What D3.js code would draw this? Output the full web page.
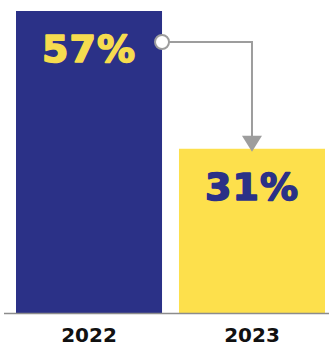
<!DOCTYPE html>
<html>
<head>
<meta charset="utf-8">
<script src="https://cdn.jsdelivr.net/npm/d3@7"></script>
<style>
  html, body { margin: 0; padding: 0; background: #fff; }
  svg { display: block; }
</style>
</head>
<body>
<div id="chart"></div>
<script>
// data
const years = ['2022', '2023'];
const shares = [57, 31];
const barColors = ['#2b3187', '#fde04c'];
const labelColors = ['#f6dc4f', '#2b3187'];

const width = 329;
const height = 347;
const margin = { top: 11, right: 4, bottom: 34, left: 16 };
const baseline = height - margin.bottom;

const svg = d3.select('#chart')
  .append('svg')
  .attr('width', width)
  .attr('height', height);

const xScale = d3.scaleBand()
  .domain(years)
  .range([margin.left, width - margin.right])
  .paddingInner(0.104)
  .paddingOuter(0);

const yScale = d3.scaleLinear()
  .domain([0, d3.max(shares)])
  .range([baseline, margin.top]);

// bars
svg.selectAll('.bar')
  .data(shares)
  .enter()
  .append('rect')
  .classed('bar', true)
  .attr('x', (d, i) => xScale(years[i]))
  .attr('y', d => yScale(d))
  .attr('width', xScale.bandwidth())
  .attr('height', d => baseline - yScale(d))
  .attr('fill', (d, i) => barColors[i]);

// baseline
svg.append('line')
  .attr('x1', 4)
  .attr('x2', width)
  .attr('y1', baseline + 0.5)
  .attr('y2', baseline + 0.5)
  .attr('stroke', '#8c8c8c')
  .attr('stroke-width', 1.5);

// value labels (stroked a little to look heavier)
svg.selectAll('.bar-label')
  .data(shares)
  .enter()
  .append('text')
  .classed('bar-label', true)
  .attr('x', (d, i) => xScale(years[i]) + xScale.bandwidth() / 2)
  .attr('y', d => yScale(d) + 51)
  .attr('text-anchor', 'middle')
  .attr('fill', (d, i) => labelColors[i])
  .attr('stroke', (d, i) => labelColors[i])
  .attr('stroke-width', 1.6)
  .attr('stroke-linejoin', 'round')
  .style('font-family', '"DejaVu Sans", sans-serif')
  .style('font-weight', 'bold')
  .style('font-size', '38px')
  .style('letter-spacing', '1px')
  .text(d => d + '%');

// x axis labels
const xAxis = d3.axisBottom(xScale).tickSize(0).tickPadding(0);
svg.append('g')
  .classed('x axis', true)
  .attr('transform', `translate(0,${baseline})`)
  .call(xAxis)
  .call(g => g.select('.domain').remove())
  .selectAll('text')
  .attr('y', 0)
  .attr('dy', 29)
  .attr('fill', '#111')
  .style('font-family', '"DejaVu Sans", sans-serif')
  .style('font-weight', 'bold')
  .style('font-size', '20px');

// change arrow
const x0 = xScale(years[0]) + xScale.bandwidth();
const x1 = xScale(years[1]) + xScale.bandwidth() / 2;
const yTop = yScale(shares[0]) + 31;
const yEnd = yScale(shares[1]) + 3;
const arrowColor = '#9d9d9d';

svg.append('path')
  .attr('d', `M${x0},${yTop}H${x1}V${yEnd - 14}`)
  .attr('fill', 'none')
  .attr('stroke', arrowColor)
  .attr('stroke-width', 2);

svg.append('path')
  .attr('d', `M${x1 - 10},${yEnd - 16}L${x1 + 10},${yEnd - 16}L${x1},${yEnd}Z`)
  .attr('fill', arrowColor);

svg.append('circle')
  .attr('cx', x0)
  .attr('cy', yTop)
  .attr('r', 7)
  .attr('fill', '#fff')
  .attr('stroke', arrowColor)
  .attr('stroke-width', 2);
</script>
</body>
</html>
